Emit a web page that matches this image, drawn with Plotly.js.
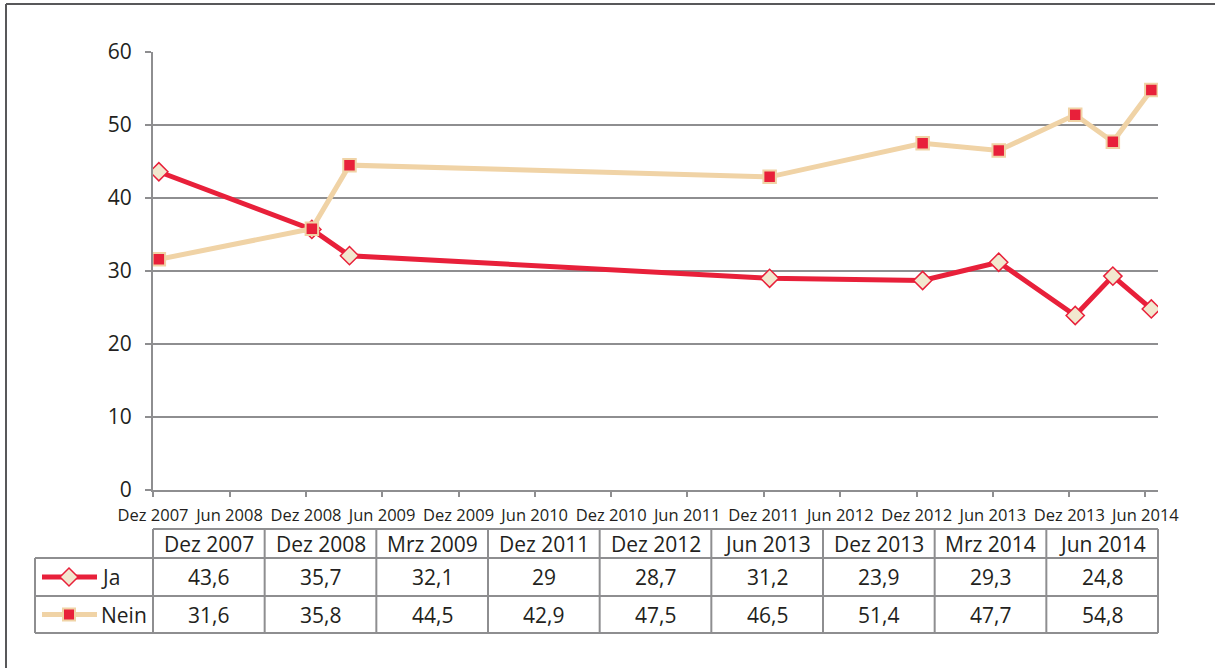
<!DOCTYPE html>
<html>
<head>
<meta charset="utf-8">
<script src="https://cdn.plot.ly/plotly-3.0.1.min.js"></script>
<style>html,body{margin:0;padding:0;background:#fff;}#chart{width:1215px;height:668px;}</style>
</head>
<body>
<div id="chart"></div>
<script>
// ---- data ----
const categories = ["Dez 2007","Dez 2008","Mrz 2009","Dez 2011","Dez 2012","Jun 2013","Dez 2013","Mrz 2014","Jun 2014"];
const dates = ["2007-12-15","2008-12-15","2009-03-15","2011-12-15","2012-12-15","2013-06-15","2013-12-15","2014-03-15","2014-06-15"];
const ja = [43.6, 35.7, 32.1, 29, 28.7, 31.2, 23.9, 29.3, 24.8];
const nein = [31.6, 35.8, 44.5, 42.9, 47.5, 46.5, 51.4, 47.7, 54.8];
const seriesNames = ["Ja", "Nein"];
const tickVals = ["2007-12-01","2008-06-01","2008-12-01","2009-06-01","2009-12-01","2010-06-01","2010-12-01","2011-06-01","2011-12-01","2012-06-01","2012-12-01","2013-06-01","2013-12-01","2014-06-01"];
const tickText = ["Dez 2007","Jun 2008","Dez 2008","Jun 2009","Dez 2009","Jun 2010","Dez 2010","Jun 2011","Dez 2011","Jun 2012","Dez 2012","Jun 2013","Dez 2013","Jun 2014"];

// ---- styles ----
const RED = "#e8203a", TAN = "#f0d3a6", CREAM = "#f2e8cf", GRID = "#8e8e90", TXT = "#231f20";
const FONT = "Open Sans, sans-serif";

const traces = [
  {x: dates, y: ja, name: seriesNames[0], type: "scatter", mode: "lines+markers",
   line: {color: RED, width: 5},
   marker: {symbol: "diamond", size: 14, color: CREAM, line: {color: RED, width: 1.5}}},
  {x: dates, y: nein, name: seriesNames[1], type: "scatter", mode: "lines+markers",
   line: {color: TAN, width: 5},
   marker: {symbol: "square", size: 12.5, color: RED, line: {color: TAN, width: 2}}}
];

// geometry helpers (plot area: x 153..1158 px, y 52..490 px)
const L = 153, R = 1158, T = 52, B = 490;
const px = v => (v - L) / (R - L);
const py = v => (B - v) / (B - T);

const shapes = [];
const annotations = [];
const lineStyle = {color: GRID, width: 2};

// outer frame (top + left)
shapes.push({type: "line", xref: "paper", yref: "paper", x0: px(6), x1: px(1216), y0: py(4), y1: py(4), line: {color: "#58585a", width: 2}});
shapes.push({type: "line", xref: "paper", yref: "paper", x0: px(6), x1: px(6), y0: py(4), y1: py(669), line: {color: "#58585a", width: 2}});

// table
const yTop = 529, yH = 558, yJ = 596, yBot = 633, xLeft = 35;
const nCol = categories.length;
shapes.push({type: "line", xref: "paper", yref: "paper", x0: 0, x1: 1, y0: py(yTop), y1: py(yTop), line: lineStyle});
[yH, yJ, yBot].forEach(v => shapes.push({type: "line", xref: "paper", yref: "paper", x0: px(xLeft), x1: 1, y0: py(v), y1: py(v), line: lineStyle}));
shapes.push({type: "line", xref: "paper", yref: "paper", x0: px(xLeft), x1: px(xLeft), y0: py(yH), y1: py(yBot), line: lineStyle});
for (let i = 0; i <= nCol; i++) {
  shapes.push({type: "line", xref: "paper", yref: "paper", x0: i / nCol, x1: i / nCol, y0: py(yTop), y1: py(yBot), line: lineStyle});
}
const rowY = [(yTop + yH) / 2, (yH + yJ) / 2, (yJ + yBot) / 2];
const TFS = 21;
categories.forEach((c, i) => {
  annotations.push({xref: "paper", yref: "paper", x: (i + 0.5) / nCol, y: py(rowY[0]), text: c, showarrow: false,
    xanchor: "center", yanchor: "middle", font: {family: FONT, size: TFS, color: TXT}});
  annotations.push({xref: "paper", yref: "paper", x: (i + 0.5) / nCol, y: py(rowY[1]), text: String(ja[i]).replace(".", ","), showarrow: false,
    xanchor: "center", yanchor: "middle", font: {family: FONT, size: TFS, color: TXT}});
  annotations.push({xref: "paper", yref: "paper", x: (i + 0.5) / nCol, y: py(rowY[2]), text: String(nein[i]).replace(".", ","), showarrow: false,
    xanchor: "center", yanchor: "middle", font: {family: FONT, size: TFS, color: TXT}});
});
// legend keys in table
[[rowY[1], RED, "diamond"], [rowY[2], TAN, "square"]].forEach(([ry, col, sym], k) => {
  shapes.push({type: "line", xref: "paper", yref: "paper", x0: px(42), x1: px(97), y0: py(ry), y1: py(ry), line: {color: col, width: 5}});
  if (sym === "diamond") {
    shapes.push({type: "path", xref: "paper", yref: "paper", xsizemode: "pixel", ysizemode: "pixel", xanchor: px(69), yanchor: py(ry),
      path: "M-9,0 L0,9 L9,0 L0,-9 Z", fillcolor: CREAM, line: {color: RED, width: 1.5}});
  } else {
    shapes.push({type: "rect", xref: "paper", yref: "paper", xsizemode: "pixel", ysizemode: "pixel", xanchor: px(69), yanchor: py(ry),
      x0: -6, x1: 6, y0: -6, y1: 6, fillcolor: RED, line: {color: TAN, width: 2}});
  }
  annotations.push({xref: "paper", yref: "paper", x: px(99), y: py(ry), text: seriesNames[k], showarrow: false,
    xanchor: "left", yanchor: "middle", font: {family: FONT, size: TFS, color: TXT}});
});

const layout = {
  width: 1215, height: 668,
  margin: {l: L, r: 1215 - R, t: T, b: 668 - B, pad: 0},
  paper_bgcolor: "#fff", plot_bgcolor: "#fff",
  showlegend: false,
  font: {family: FONT, color: TXT},
  xaxis: {type: "date", range: ["2007-12-01", "2014-07-01"], tickmode: "array", tickvals: tickVals, ticktext: tickText,
    showgrid: false, zeroline: false, showline: true, linecolor: GRID, linewidth: 2,
    ticks: "outside", ticklen: 5, tickwidth: 2, tickcolor: GRID, ticklabelstandoff: 4,
    tickfont: {family: FONT, size: 16.5, color: TXT}, tickangle: 0, fixedrange: true},
  yaxis: {range: [0, 60], dtick: 10, tick0: 0, showgrid: true, gridcolor: GRID, gridwidth: 2,
    zeroline: false, showline: true, linecolor: GRID, linewidth: 2,
    ticks: "outside", ticklen: 6, tickwidth: 2, tickcolor: GRID, ticklabelstandoff: 9,
    tickfont: {family: FONT, size: 21, color: TXT}, fixedrange: true},
  shapes: shapes,
  annotations: annotations
};

Plotly.newPlot("chart", traces, layout, {displayModeBar: false, staticPlot: true});
</script>
</body>
</html>
